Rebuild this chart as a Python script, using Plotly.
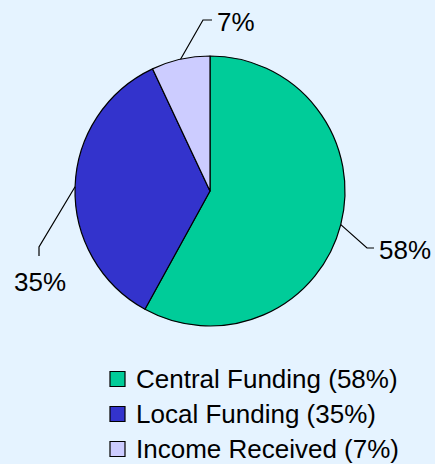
import math
import plotly.graph_objects as go

# ---- data ----
labels = ["Central Funding", "Local Funding", "Income Received"]
values = [58, 35, 7]
colors = ["#00CC99", "#3333CC", "#CCCCFF"]

# ---- layout constants (pixels) ----
W, H = 435, 464
CX, CY, R = 210, 191, 135
BG = "#E5F3FF"
FONT = "Arial, 'Liberation Sans', sans-serif"

# leader-line elbow / end and text anchor for each label (pixels)
label_layout = [
    dict(elbow=(367, 248), end=(374, 248), text=(377, 250), xanchor="left"),
    dict(elbow=(39, 247), end=(39, 256), text=(40, 282), xanchor="center"),
    dict(elbow=(203, 20), end=(212, 20), text=(215, 22), xanchor="left"),
]
# legend layout (pixels)
LEG_X, LEG_Y0, LEG_DY, LEG_SQ, LEG_TX = 110, 379, 35, 15, 134


def px(x):
    return x / W


def py(y):
    return 1 - y / H


fig = go.Figure(
    go.Pie(
        labels=[f"{l} ({v}%)" for l, v in zip(labels, values)],
        values=values,
        marker=dict(colors=colors, line=dict(color="black", width=1.2)),
        textinfo="none",
        hoverinfo="label+percent",
        sort=False,
        direction="clockwise",
        rotation=0,
        showlegend=False,
        domain=dict(x=[px(CX - R), px(CX + R)], y=[py(CY + R), py(CY - R)]),
    )
)

shapes = []
annotations = []
total = sum(values)
cum = 0
for v, ll in zip(values, label_layout):
    mid = (cum + v / 2) / total * 2 * math.pi
    cum += v
    sx = CX + R * math.sin(mid)
    sy = CY - R * math.cos(mid)
    ex, ey = ll["elbow"]
    fx, fy = ll["end"]
    shapes.append(dict(type="path", xref="paper", yref="paper",
                       path=f"M{px(sx)},{py(sy)} L{px(ex)},{py(ey)} L{px(fx)},{py(fy)}",
                       line=dict(color="black", width=1.2)))
    tx, ty = ll["text"]
    annotations.append(dict(x=px(tx), y=py(ty), xref="paper", yref="paper",
                            text=f"{round(v / total * 100)}%", showarrow=False,
                            xanchor=ll["xanchor"], yanchor="middle",
                            font=dict(family=FONT, size=26, color="black")))

# legend built from the same data
for i, (l, v, c) in enumerate(zip(labels, values, colors)):
    yc = LEG_Y0 + i * LEG_DY
    shapes.append(dict(type="rect", xref="paper", yref="paper",
                       x0=px(LEG_X), x1=px(LEG_X + LEG_SQ),
                       y0=py(yc - LEG_SQ / 2), y1=py(yc + LEG_SQ / 2),
                       fillcolor=c, line=dict(color="black", width=1.2)))
    annotations.append(dict(x=px(LEG_TX), y=py(yc), xref="paper", yref="paper",
                            text=f"{l} ({v}%)", showarrow=False,
                            xanchor="left", yanchor="middle",
                            font=dict(family=FONT, size=26, color="black")))

fig.update_layout(
    width=W, height=H,
    margin=dict(l=0, r=0, t=0, b=0),
    paper_bgcolor=BG, plot_bgcolor=BG,
    shapes=shapes, annotations=annotations,
    showlegend=False,
    font=dict(family=FONT, color="black"),
)

fig.write_html(
    "out.html",
    config=dict(displayModeBar=False),
    post_script="document.body.style.margin='0';document.body.style.overflow='hidden';",
)
